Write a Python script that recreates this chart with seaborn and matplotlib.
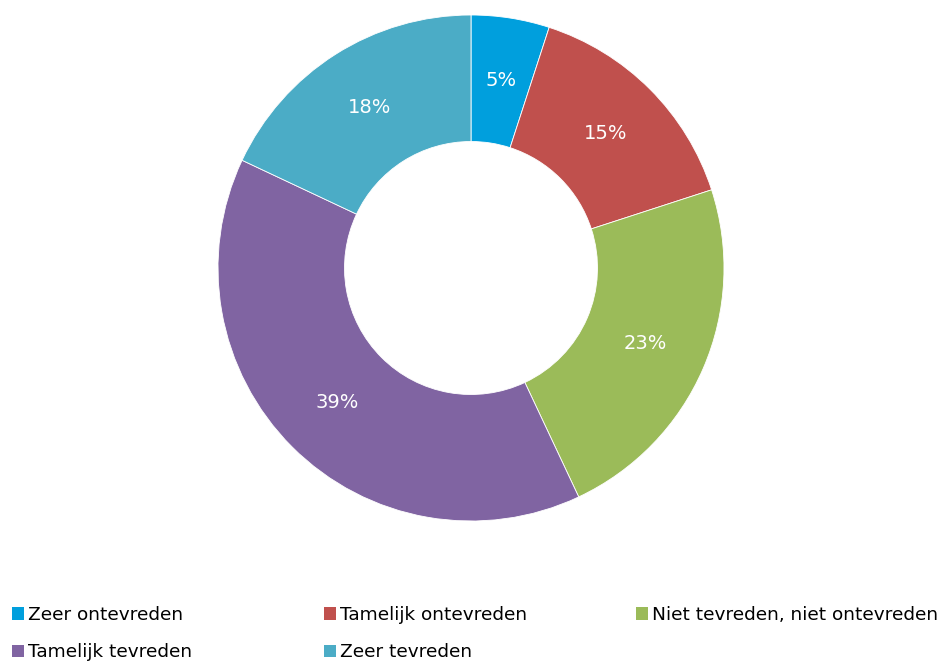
import matplotlib
matplotlib.use("Agg")
import matplotlib.pyplot as plt
from matplotlib.patches import Patch
import seaborn as sns

categories = ["Zeer ontevreden", "Tamelijk ontevreden", "Niet tevreden, niet ontevreden",
              "Tamelijk tevreden", "Zeer tevreden"]
values = [5, 15, 23, 39, 18]
colors = ["#009FDD", "#C0504D", "#9BBB59", "#8064A2", "#4BACC6"]

sns.set_theme(style="white")
plt.rcParams['font.family'] = ['DejaVu Sans']

fig = plt.figure(figsize=(9.41, 6.62), dpi=100)
ax = fig.add_axes([218/941, 141/662, 506/941, 506/662])
wedges, texts, autotexts = ax.pie(
    values, colors=colors, startangle=90, counterclock=False, radius=1,
    autopct=lambda p: f"{p:.0f}%", pctdistance=0.75,
    wedgeprops=dict(width=0.5, edgecolor="white", linewidth=0.6),
    textprops=dict(color="white", fontsize=14))
ax.set_xlim(-1, 1)
ax.set_ylim(-1, 1)
ax.set_aspect("equal")
ax.axis("off")

handles = [Patch(facecolor=c, edgecolor="none") for c in colors]
columns = [[0, 3], [1, 4], [2]]
col_x = [12, 324, 636]
for xpos, idx in zip(col_x, columns):
    leg = fig.legend([handles[i] for i in idx], [categories[i] for i in idx],
                     ncol=1, loc="upper left", bbox_to_anchor=(xpos/941, 1 - 606/662),
                     frameon=False, fontsize=13.3, handlelength=0.65, handleheight=0.65,
                     handletextpad=0.2, labelspacing=1.04,
                     borderaxespad=0, borderpad=0)
    for t in leg.get_texts():
        t.set_color("#000000")
fig.savefig("out.png", dpi=100)
